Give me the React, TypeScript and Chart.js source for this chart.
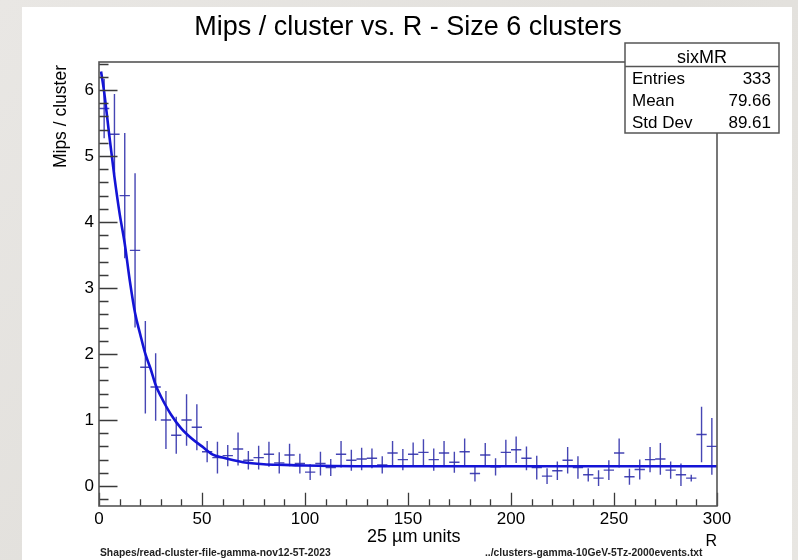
import React, { useEffect, useRef } from "react";
import { Chart, registerables } from "chart.js";

Chart.register(...registerables);

// ---------- text ----------
const TITLE = "Mips / cluster vs. R - Size 6 clusters";
const Y_TITLE = "Mips / cluster";
const X_TITLE = "R";
const X_UNITS = "25 µm units";
const FOOT_LEFT = "Shapes/read-cluster-file-gamma-nov12-5T-2023";
const FOOT_RIGHT = "../clusters-gamma-10GeV-5Tz-2000events.txt";
const STATS_NAME = "sixMR";
const STATS_LABELS = ["Entries", "Mean", "Std Dev"];
const STATS_VALUES = ["333", "79.66", "89.61"];

// ---------- data ----------
const BIN_WIDTH = 5;
const binCenters = [
  2.5, 7.5, 12.5, 17.5, 22.5, 27.5, 32.5, 37.5, 42.5, 47.5,
  52.5, 57.5, 62.5, 67.5, 72.5, 77.5, 82.5, 87.5, 92.5, 97.5,
  102.5, 107.5, 112.5, 117.5, 122.5, 127.5, 132.5, 137.5, 142.5, 147.5,
  152.5, 157.5, 162.5, 167.5, 172.5, 177.5, 182.5, 187.5, 192.5, 197.5,
  202.5, 207.5, 212.5, 217.5, 222.5, 227.5, 232.5, 237.5, 242.5, 247.5,
  252.5, 257.5, 262.5, 267.5, 272.5, 277.5, 282.5, 287.5, 292.5, 297.5,
];
const binValues = [
  5.72, 5.33, 4.40, 3.57, 1.80, 1.50, 1.00, 0.77, 1.00, 0.89,
  0.52, 0.43, 0.46, 0.56, 0.39, 0.43, 0.48, 0.35, 0.47, 0.34,
  0.21, 0.34, 0.28, 0.48, 0.39, 0.41, 0.42, 0.32, 0.50, 0.40,
  0.48, 0.51, 0.40, 0.50, 0.36, 0.52, 0.19, 0.47, 0.29, 0.51,
  0.55, 0.42, 0.28, 0.15, 0.23, 0.39, 0.28, 0.17, 0.12, 0.24,
  0.50, 0.14, 0.25, 0.40, 0.41, 0.24, 0.17, 0.12, 0.78, 0.60,
];
const binErrors = [
  0.45, 0.61, 0.95, 1.17, 0.70, 0.51, 0.44, 0.28, 0.39, 0.35,
  0.16, 0.24, 0.16, 0.25, 0.14, 0.18, 0.19, 0.16, 0.17, 0.15,
  0.12, 0.18, 0.13, 0.20, 0.16, 0.17, 0.15, 0.13, 0.18, 0.16,
  0.18, 0.20, 0.17, 0.18, 0.16, 0.20, 0.12, 0.18, 0.13, 0.19,
  0.20, 0.18, 0.18, 0.12, 0.14, 0.20, 0.17, 0.10, 0.12, 0.15,
  0.22, 0.12, 0.15, 0.19, 0.24, 0.13, 0.17, 0.05, 0.42, 0.43,
];

// fit curve
const fitX = [1, 2.5, 5, 7.5, 10, 12.5, 15, 17.5, 20, 22.5, 25, 27.5, 30, 35, 40, 45, 50, 55, 60, 70, 80, 90, 100, 125, 150, 200, 300];
const fitY = [6.28, 5.97, 5.31, 4.68, 4.13, 3.67, 3.10, 2.62, 2.30, 2.00, 1.78, 1.53, 1.36, 1.08, 0.87, 0.72, 0.60, 0.48, 0.43, 0.36, 0.33, 0.32, 0.31, 0.30, 0.30, 0.30, 0.30];

// axis ranges & ticks
const X_MIN = 0;
const X_MAX = 300;
const X_MINOR_STEP = 10;
const X_LABEL_STEP = 50;
const Y_MIN = -0.303;
const Y_MAX = 6.424;
const Y_MINOR_STEP = 0.2;

const FONT = "'Liberation Sans', Arial, Helvetica, sans-serif";
const DATA_COLOR = "rgba(50,50,172,0.9)";
const FIT_COLOR = "#1414d6";

const isWhole = (v: number) => Math.abs(v - Math.round(v)) < 1e-6;

const rootPlugin = {
  id: "rootDecor",
  afterDraw(chart: any) {
    const ctx = chart.ctx as CanvasRenderingContext2D;
    const ca = chart.chartArea;
    const xs = chart.scales.x;
    const ys = chart.scales.y;
    ctx.save();

    // inward ticks
    ctx.strokeStyle = "#3a3a3a";
    ctx.lineWidth = 1.3;
    ctx.beginPath();
    for (const t of ys.ticks) {
      const py = Math.round(ys.getPixelForValue(t.value)) + 0.5;
      const len = isWhole(t.value) ? 18.5 : 9.5;
      ctx.moveTo(ca.left, py);
      ctx.lineTo(ca.left + len, py);
    }
    for (const t of xs.ticks) {
      const px = Math.round(xs.getPixelForValue(t.value)) + 0.5;
      const len = Math.abs(t.value % X_LABEL_STEP) < 1e-6 ? 13.3 : 6.7;
      ctx.moveTo(px, ca.bottom);
      ctx.lineTo(px, ca.bottom - len);
    }
    ctx.stroke();

    // frame
    ctx.strokeStyle = "#555";
    ctx.lineWidth = 1.6;
    ctx.strokeRect(ca.left, ca.top, ca.right - ca.left, ca.bottom - ca.top);

    // stats box
    const bx = 625, by = 43, bw = 154, bh = 90;
    ctx.fillStyle = "#fff";
    ctx.fillRect(bx, by, bw, bh);
    ctx.strokeStyle = "#555";
    ctx.lineWidth = 1.5;
    ctx.strokeRect(bx, by, bw, bh);
    ctx.beginPath();
    ctx.moveTo(bx, 66.5);
    ctx.lineTo(bx + bw, 66.5);
    ctx.stroke();
    ctx.fillStyle = "#000";
    ctx.textBaseline = "alphabetic";
    ctx.font = `18px ${FONT}`;
    ctx.textAlign = "center";
    ctx.fillText(STATS_NAME, bx + bw / 2, 62.5);
    ctx.font = `17px ${FONT}`;
    const rowBase = [83.5, 106, 128.3];
    STATS_LABELS.forEach((lab, i) => {
      ctx.textAlign = "left";
      ctx.fillText(lab, 632, rowBase[i]);
      ctx.textAlign = "right";
      ctx.fillText(STATS_VALUES[i], 771, rowBase[i]);
    });

    // title
    ctx.font = `27px ${FONT}`;
    ctx.textAlign = "center";
    ctx.fillText(TITLE, (ca.left + ca.right) / 2, 35);

    // y title
    ctx.save();
    ctx.translate(66, ca.top + 3);
    ctx.rotate(-Math.PI / 2);
    ctx.font = `17.5px ${FONT}`;
    ctx.textAlign = "right";
    ctx.fillText(Y_TITLE, 0, 0);
    ctx.restore();

    // x title + units
    ctx.font = `16px ${FONT}`;
    ctx.textAlign = "right";
    ctx.fillText(X_TITLE, ca.right, 546);
    ctx.font = `18px ${FONT}`;
    ctx.textAlign = "left";
    ctx.fillText(X_UNITS, 367, 542);

    // footers
    ctx.font = `bold 10.3px ${FONT}`;
    ctx.fillStyle = "#222";
    ctx.textAlign = "left";
    ctx.fillText(FOOT_LEFT, 100, 556);
    ctx.fillText(FOOT_RIGHT, 485, 556);

    ctx.restore();
  },
};

export default function App() {
  const ref = useRef<HTMLCanvasElement | null>(null);

  useEffect(() => {
    if (!ref.current) return;
    const half = BIN_WIDTH / 2;
    const vertical: any[] = [];
    const horizontal: any[] = [];
    binCenters.forEach((c, i) => {
      const v = binValues[i];
      const e = binErrors[i];
      vertical.push({ x: c, y: v - e }, { x: c, y: v + e }, { x: c, y: null });
      horizontal.push({ x: c - half, y: v }, { x: c + half, y: v }, { x: c, y: null });
    });
    const fit = fitX.map((x, i) => ({ x, y: fitY[i] }));

    const chart = new Chart(ref.current, {
      type: "scatter",
      data: {
        datasets: [
          {
            label: "fit",
            data: fit,
            showLine: true,
            borderColor: FIT_COLOR,
            borderWidth: 2.6,
            pointRadius: 0,
            cubicInterpolationMode: "monotone",
            fill: false,
          },
          {
            label: "errors",
            data: vertical,
            showLine: true,
            spanGaps: false,
            borderColor: DATA_COLOR,
            borderWidth: 1.4,
            pointRadius: 0,
            fill: false,
          },
          {
            label: "bins",
            data: horizontal,
            showLine: true,
            spanGaps: false,
            borderColor: DATA_COLOR,
            borderWidth: 1.4,
            pointRadius: 0,
            fill: false,
          },
        ],
      } as any,
      options: {
        animation: false,
        responsive: false,
        devicePixelRatio: 1,
        events: [],
        layout: { padding: { left: 0, right: 81, top: 62, bottom: 0 } },
        plugins: {
          legend: { display: false },
          tooltip: { enabled: false },
          title: { display: false },
        },
        scales: {
          x: {
            type: "linear",
            position: "bottom",
            min: X_MIN,
            max: X_MAX,
            afterFit: (s: any) => {
              s.height = 54;
            },
            grid: { display: false, drawTicks: false },
            border: { display: false },
            ticks: {
              stepSize: X_MINOR_STEP,
              autoSkip: false,
              maxRotation: 0,
              minRotation: 0,
              includeBounds: false,
              padding: 3,
              color: "#000",
              font: { family: FONT, size: 17 },
              callback: (v: any) => (Math.abs(Number(v) % X_LABEL_STEP) < 1e-6 ? String(v) : ""),
            },
          },
          y: {
            type: "linear",
            position: "left",
            min: Y_MIN,
            max: Y_MAX,
            afterFit: (s: any) => {
              s.width = 99;
            },
            grid: { display: false, drawTicks: false },
            border: { display: false },
            ticks: {
              stepSize: Y_MINOR_STEP,
              autoSkip: false,
              includeBounds: false,
              padding: 5,
              color: "#000",
              font: { family: FONT, size: 17 },
              callback: (v: any) => (isWhole(Number(v)) ? String(Math.round(Number(v))) : ""),
            },
          },
        },
      } as any,
      plugins: [rootPlugin],
    });
    return () => chart.destroy();
  }, []);

  return (
    <div
      style={{
        position: "fixed",
        left: 0,
        top: 0,
        width: 798,
        height: 560,
        background: "linear-gradient(135deg, #e9e7e4 0%, #e2e0dc 50%, #e8e6e2 100%)",
        overflow: "hidden",
      }}
    >
      <div
        style={{
          position: "absolute",
          left: 22,
          top: 7,
          width: 770,
          height: 553,
          background: "#fff",
        }}
      />
      <canvas
        ref={ref}
        width={798}
        height={560}
        style={{ position: "absolute", left: 0, top: 0, width: 798, height: 560 }}
      />
    </div>
  );
}
